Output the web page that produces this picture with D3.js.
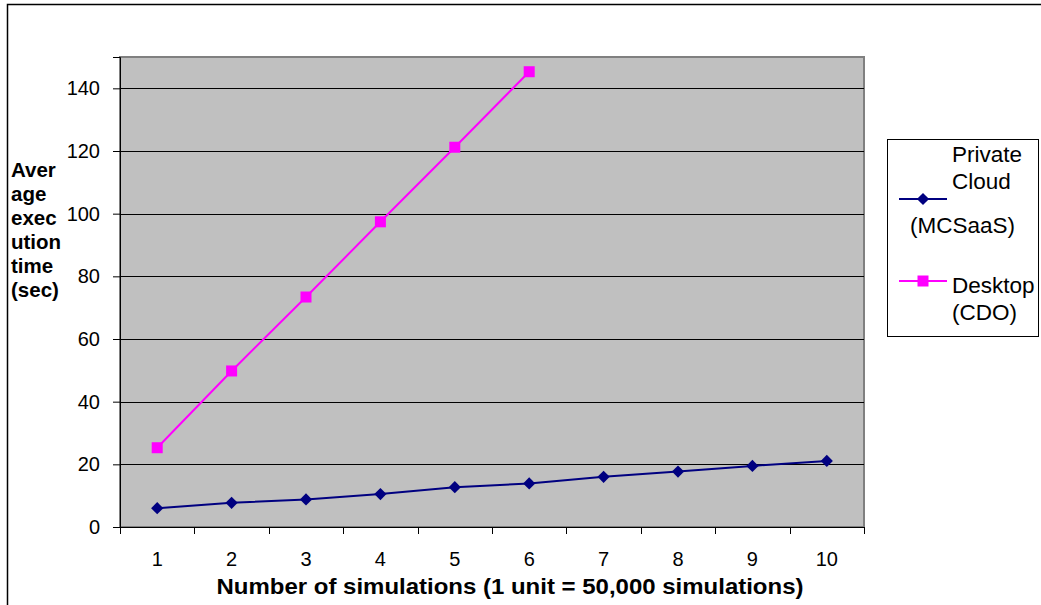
<!DOCTYPE html>
<html>
<head>
<meta charset="utf-8">
<script src="https://cdn.jsdelivr.net/npm/d3@7"></script>
<style>
  html, body { margin: 0; padding: 0; background: #fff; }
  svg { display: block; font-family: "Liberation Sans", Arial, sans-serif; }
</style>
</head>
<body>
<svg id="chart" width="1041" height="605"></svg>
<script>
const categories = ["1","2","3","4","5","6","7","8","9","10"];
const privateCloud = [6.0, 7.7, 8.8, 10.5, 12.7, 13.9, 16.0, 17.7, 19.5, 21.1];
const desktop = [25.3, 49.8, 73.4, 97.4, 121.2, 145.3];
const yTicks = [0, 20, 40, 60, 80, 100, 120, 140];
const seriesNames = [["Private", "Cloud", "(MCSaaS)"], ["Desktop", "(CDO)"]];
const yTitleLines = ["Aver", "age", "exec", "ution", "time", "(sec)"];
const xTitle = "Number of simulations (1 unit = 50,000 simulations)";

const svg = d3.select("#chart");
const plot = { left: 120, right: 864, top: 57, bottom: 527 };

// outer frame
svg.append("rect").attr("x", 7.5).attr("y", 4.5).attr("width", 1100).attr("height", 700)
  .attr("fill", "none").attr("stroke", "#000").attr("stroke-width", 1.5);

const x = d3.scaleBand().domain(categories).range([plot.left, plot.right]).padding(0);
const y = d3.scaleLinear().domain([0, 150]).range([plot.bottom, plot.top]);

// plot background
svg.append("rect").attr("x", plot.left).attr("y", plot.top)
  .attr("width", plot.right - plot.left).attr("height", plot.bottom - plot.top)
  .attr("fill", "#c0c0c0").attr("stroke", "#808080").attr("stroke-width", 2);

// gridlines
svg.append("g").selectAll("line").data(yTicks.filter(d => d > 0)).join("line")
  .attr("x1", plot.left).attr("x2", plot.right)
  .attr("y1", d => Math.round(y(d)) + 0.5).attr("y2", d => Math.round(y(d)) + 0.5)
  .attr("stroke", "#000").attr("stroke-width", 1);

// y axis
const yAxis = svg.append("g").attr("transform", `translate(${plot.left},0)`)
  .call(d3.axisLeft(y).tickValues(yTicks).tickSize(7).tickPadding(13).tickFormat(d3.format("d")));
yAxis.select(".domain").attr("stroke", "#000");
yAxis.selectAll("text").attr("font-size", 20).attr("fill", "#000")
  .attr("font-family", "Liberation Sans, Arial, sans-serif");

// x axis with ticks between categories
const xAxisG = svg.append("g").attr("transform", `translate(0,${plot.bottom})`);
xAxisG.append("line").attr("x1", plot.left).attr("x2", plot.right + 1)
  .attr("y1", 0.5).attr("y2", 0.5).attr("stroke", "#000");
const boundaries = categories.map(c => x(c)).concat([x.range()[1]]);
xAxisG.selectAll("line.tk").data(boundaries).join("line").attr("class", "tk")
  .attr("x1", d => Math.round(d) + 0.5).attr("x2", d => Math.round(d) + 0.5)
  .attr("y1", 0).attr("y2", 7).attr("stroke", "#000");
xAxisG.selectAll("text").data(categories).join("text")
  .attr("x", d => x(d) + x.bandwidth() / 2).attr("y", 39)
  .attr("text-anchor", "middle").attr("font-size", 20).attr("fill", "#000").text(d => d);

// axis titles
svg.append("text").attr("x", 510).attr("y", 594).attr("text-anchor", "middle")
  .attr("font-size", 22).attr("font-weight", "bold")
  .attr("textLength", 587).attr("lengthAdjust", "spacingAndGlyphs").text(xTitle);
svg.append("g").selectAll("text").data(yTitleLines).join("text")
  .attr("x", 11).attr("y", (d, i) => 177 + i * 24)
  .attr("font-size", 20.5).attr("font-weight", "bold").text(d => d);

// lines
const line = d3.line().x((d, i) => x(categories[i]) + x.bandwidth() / 2).y(d => y(d));
svg.append("path").datum(privateCloud).attr("d", line)
  .attr("fill", "none").attr("stroke", "#000080").attr("stroke-width", 2);
svg.append("path").datum(desktop).attr("d", line)
  .attr("fill", "none").attr("stroke", "#ff00ff").attr("stroke-width", 2);

// markers
const diamond = d3.symbol().type(d3.symbolDiamond2).size(95);
svg.append("g").selectAll("path").data(privateCloud).join("path")
  .attr("d", diamond)
  .attr("transform", (d, i) => `translate(${x(categories[i]) + x.bandwidth() / 2},${y(d)})`)
  .attr("fill", "#000080");
svg.append("g").selectAll("rect").data(desktop).join("rect")
  .attr("x", (d, i) => x(categories[i]) + x.bandwidth() / 2 - 5.5)
  .attr("y", d => y(d) - 5.5).attr("width", 11).attr("height", 11)
  .attr("fill", "#ff00ff");

// legend
const lg = svg.append("g");
lg.append("rect").attr("x", 887.5).attr("y", 139.5).attr("width", 151).attr("height", 197)
  .attr("fill", "#fff").attr("stroke", "#000").attr("stroke-width", 1);
lg.append("line").attr("x1", 899).attr("x2", 947).attr("y1", 199).attr("y2", 199)
  .attr("stroke", "#000080").attr("stroke-width", 2);
lg.append("path").attr("d", diamond).attr("transform", "translate(923,199)").attr("fill", "#000080");
lg.append("line").attr("x1", 899).attr("x2", 947).attr("y1", 281).attr("y2", 281)
  .attr("stroke", "#ff00ff").attr("stroke-width", 2);
lg.append("rect").attr("x", 917.5).attr("y", 275.5).attr("width", 11).attr("height", 11).attr("fill", "#ff00ff");
const lgText = [
  { t: seriesNames[0][0], x: 952, y: 162 },
  { t: seriesNames[0][1], x: 952, y: 189 },
  { t: seriesNames[0][2], x: 910, y: 233 },
  { t: seriesNames[1][0], x: 952, y: 293 },
  { t: seriesNames[1][1], x: 952, y: 320 }
];
lg.selectAll("text").data(lgText).join("text")
  .attr("x", d => d.x).attr("y", d => d.y).attr("font-size", 22.5).attr("fill", "#000").text(d => d.t);
</script>
</body>
</html>
